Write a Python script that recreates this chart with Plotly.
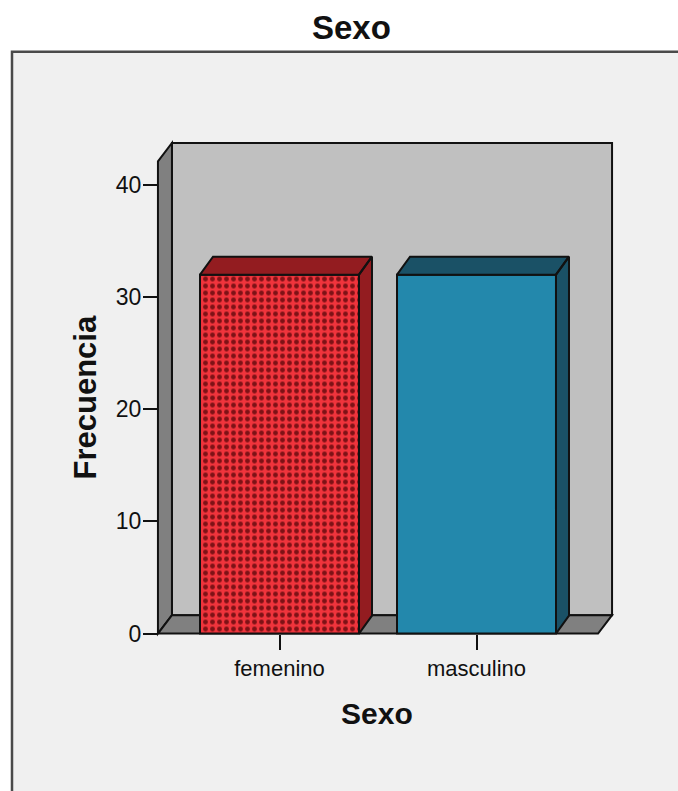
import plotly.graph_objects as go

# ---- data ----
categories = ["femenino", "masculino"]
frequencies = [32, 32]
y_ticks = [0, 10, 20, 30, 40]

# ---- styling ----
front_colors = ["#F0343C", "#2388AC"]
dark_colors = ["#931C20", "#1A5166"]
pattern_fg = "#7E1216"
wall_back = "#C0C0C0"
wall_side = "#808080"
frame_bg = "#F0F0F0"
FONT = "Liberation Sans, Arial, sans-serif"

W, H = 678, 791
# pixel mapping of data units
X0_PX, X_SCALE = 279.5, 197.0
Y0_PX, Y_SCALE = 636.0, 11.26

BAR_W = 0.807
# 3-D depth offsets (data units)
DXW, DYW = 14 / X_SCALE, 18.5 / Y_SCALE
DXB, DYB = 13 / X_SCALE, 18.0 / Y_SCALE
XA, XB, YMAX = -0.617, 1.617, 42.1

PL, PR, PT, PB = 146, 634, 122, 646
x_range = [(PL - X0_PX) / X_SCALE, (PR - X0_PX) / X_SCALE]
y_range = [(Y0_PX - PB) / Y_SCALE, (Y0_PX - PT) / Y_SCALE]


def path(pts):
    return "M " + " L ".join(f"{x},{y}" for x, y in pts) + " Z"


shapes = [
    # outer chart frame
    dict(type="rect", xref="paper", yref="paper", x0=12 / W, x1=1.05,
         y0=-0.05, y1=1 - 52 / H, fillcolor=frame_bg,
         line=dict(color="#4a4a4a", width=2.5), layer="below"),
    # back wall
    dict(type="path", xref="x", yref="y", layer="below",
         path=path([(XA + DXW, DYW), (XB + DXW, DYW),
                    (XB + DXW, YMAX + DYW), (XA + DXW, YMAX + DYW)]),
         fillcolor=wall_back, line=dict(color="#111", width=2)),
    # left side wall
    dict(type="path", xref="x", yref="y", layer="below",
         path=path([(XA, 0), (XA, YMAX), (XA + DXW, YMAX + DYW), (XA + DXW, DYW)]),
         fillcolor=wall_side, line=dict(color="#111", width=2)),
    # floor
    dict(type="path", xref="x", yref="y", layer="below",
         path=path([(XA, 0), (XB, 0), (XB + DXW, DYW), (XA + DXW, DYW)]),
         fillcolor=wall_side, line=dict(color="#111", width=2)),
]

fig = go.Figure()

xs = list(range(len(categories)))

# front faces of the bars
fig.add_trace(go.Bar(
    x=[xs[0]], y=[frequencies[0]], width=BAR_W,
    marker=dict(color=front_colors[0], line=dict(color="#111", width=2),
                pattern=dict(shape=".", fgcolor=pattern_fg, bgcolor=front_colors[0],
                             size=7, solidity=0.38, fillmode="replace")),
    showlegend=False, hoverinfo="skip"))
fig.add_trace(go.Bar(
    x=[xs[1]], y=[frequencies[1]], width=BAR_W,
    marker=dict(color=front_colors[1], line=dict(color="#111", width=2)),
    showlegend=False, hoverinfo="skip"))

# top and side faces of each bar
for i, (xc, v) in enumerate(zip(xs, frequencies)):
    l, r = xc - BAR_W / 2, xc + BAR_W / 2
    top = [(l, v), (r, v), (r + DXB, v + DYB), (l + DXB, v + DYB), (l, v)]
    side = [(r, 0), (r, v), (r + DXB, v + DYB), (r + DXB, DYB), (r, 0)]
    px = [p[0] for p in top] + [None] + [p[0] for p in side]
    py = [p[1] for p in top] + [None] + [p[1] for p in side]
    fig.add_trace(go.Scatter(
        x=px, y=py, mode="lines", fill="toself", fillcolor=dark_colors[i],
        line=dict(color="#111", width=2), showlegend=False, hoverinfo="skip"))

fig.update_layout(
    width=W, height=H,
    margin=dict(l=0, r=0, t=0, b=0),
    paper_bgcolor="white", plot_bgcolor="rgba(0,0,0,0)",
    barmode="overlay",
    shapes=shapes,
    xaxis=dict(domain=[PL / W, PR / W], range=x_range, anchor="free",
               position=(H - Y0_PX) / H, tickvals=xs, ticktext=categories,
               ticks="outside", ticklen=15, tickwidth=2, tickcolor="#111",
               showline=False, showgrid=False, zeroline=False,
               tickfont=dict(family=FONT, size=22, color="#111")),
    yaxis=dict(domain=[(H - PB) / H, (H - PT) / H], range=y_range, anchor="free",
               position=158 / W, tickvals=y_ticks, ticklabelstandoff=-3,
               ticks="outside", ticklen=15, tickwidth=2, tickcolor="#111",
               showline=False, showgrid=False, zeroline=False,
               tickfont=dict(family=FONT, size=23, color="#111")),
    annotations=[
        dict(text="<b>Sexo</b>", xref="paper", yref="paper", x=351 / W, y=1 - 28 / H,
             xanchor="center", yanchor="middle", showarrow=False,
             font=dict(family=FONT, size=33, color="#111")),
        dict(text="<b>Sexo</b>", xref="paper", yref="paper", x=377 / W, y=1 - 716 / H,
             xanchor="center", yanchor="middle", showarrow=False,
             font=dict(family=FONT, size=30, color="#111")),
        dict(text="<b>Frecuencia</b>", xref="paper", yref="paper", x=85 / W, y=1 - 399 / H,
             xanchor="center", yanchor="middle", showarrow=False, textangle=-90,
             font=dict(family=FONT, size=31, color="#111")),
    ],
)

fig.write_html("out.html")
